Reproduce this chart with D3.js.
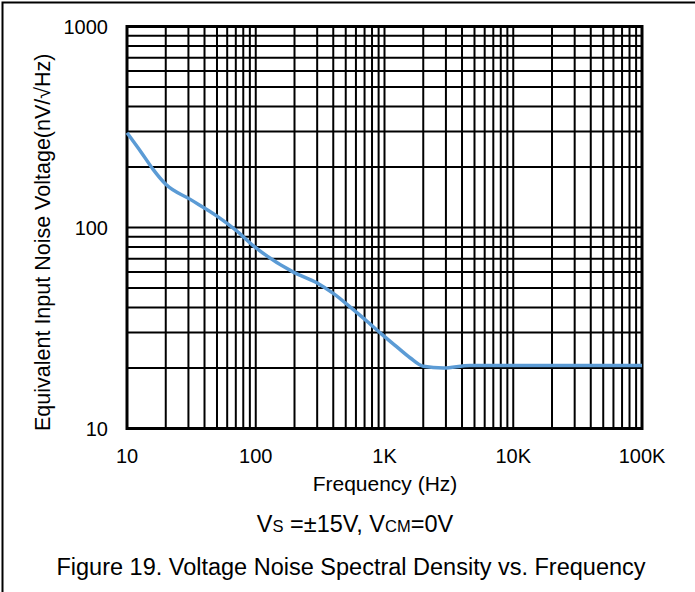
<!DOCTYPE html>
<html>
<head>
<meta charset="utf-8">
<script src="https://cdn.jsdelivr.net/npm/d3@7"></script>
<style>
  body { margin: 0; background: #fff; }
  text { font-family: "Liberation Sans", Arial, sans-serif; fill: #000; }
</style>
</head>
<body>
<svg id="chart" width="695" height="592"></svg>
<script>
// noise curve
const freq  = [10, 13, 16, 20, 31, 50, 70, 96, 196, 300, 400, 573, 700, 950, 1200, 1577, 2000, 2864, 4600, 10000, 100000];
const noise = [296, 235, 194, 164, 138, 114, 97, 81, 60, 53, 47, 39, 35, 29.5, 26, 22.5, 20.4, 20.0, 20.6, 20.6, 20.6];

const xTickValues = [10, 100, 1000, 10000, 100000];
const xTickLabels = ["10", "100", "1K", "10K", "100K"];
const yTickValues = [10, 100, 1000];
const yTickLabels = ["10", "100", "1000"];

const svg = d3.select("#chart");
const plotLeft = 127, plotRight = 642, plotTop = 26.5, plotBottom = 428.5;

// outer frame (runs off the right/bottom of the picture)
svg.append("rect")
	.attr("x", 2.5).attr("y", 2.5)
	.attr("width", 720).attr("height", 620)
	.style("fill", "none").style("stroke", "#000").style("stroke-width", 2);

const x = d3.scaleLog().domain([10, 100000]).range([plotLeft, plotRight]);
const y = d3.scaleLog().domain([10, 1000]).range([plotBottom, plotTop]);

let grid = svg.append("g");

// vertical grid, every 1..9 of each decade
grid.selectAll("line.vx")
	.data(x.ticks())
	.enter().append("line")
	.attr("x1", d => x(d)).attr("x2", d => x(d))
	.attr("y1", plotTop).attr("y2", plotBottom)
	.style("stroke", "#000").style("stroke-width", 2);

grid.selectAll("line.hy")
	.data(y.ticks())
	.enter().append("line")
	.attr("x1", plotLeft).attr("x2", plotRight)
	.attr("y1", d => y(d)).attr("y2", d => y(d))
	.style("stroke", "#000").style("stroke-width", 2);

// plot border
svg.append("rect")
	.attr("x", plotLeft).attr("y", plotTop)
	.attr("width", plotRight - plotLeft).attr("height", plotBottom - plotTop)
	.style("fill", "none").style("stroke", "#000").style("stroke-width", 3);

// tick labels
svg.selectAll("text.xt")
	.data(xTickValues)
	.enter().append("text")
	.attr("x", d => x(d))
	.attr("y", 463)
	.attr("font-size", 20)
	.style("text-anchor", "middle")
	.text((d, i) => xTickLabels[i]);

svg.selectAll("text.yt")
	.data(yTickValues)
	.enter().append("text")
	.attr("x", 108)
	.attr("y", d => y(d) + 7)
	.attr("font-size", 20)
	.style("text-anchor", "end")
	.text((d, i) => yTickLabels[i]);

// axis titles
svg.append("text")
	.attr("x", 385).attr("y", 491)
	.attr("font-size", 21)
	.style("text-anchor", "middle")
	.text("Frequency (Hz)");

svg.append("text")
	.attr("transform", "translate(50,431) rotate(-90)")
	.attr("font-size", 21.5)
	.style("text-anchor", "start")
	.text("Equivalent Input Noise Voltage(nV/\u221AHz)");

// conditions line with small subscripts
let cond = svg.append("text")
	.attr("x", 355).attr("y", 532)
	.attr("font-size", 23.5)
	.style("text-anchor", "middle");
cond.append("tspan").text("V");
cond.append("tspan").attr("font-size", 16.5).text("S");
cond.append("tspan").text(" =\u00B115V, V");
cond.append("tspan").attr("font-size", 16.5).text("CM");
cond.append("tspan").text("=0V");

svg.append("text")
	.attr("x", 351).attr("y", 575)
	.attr("font-size", 23.5)
	.style("text-anchor", "middle")
	.text("Figure 19. Voltage Noise Spectral Density vs. Frequency");

// the curve
const line = d3.line()
	.x((d, i) => x(freq[i]))
	.y(d => y(d))
	.curve(d3.curveMonotoneX);

svg.append("path")
	.datum(noise)
	.attr("d", line)
	.style("fill", "none")
	.style("stroke", "#5B9BD5")
	.style("stroke-width", 3.5)
	.style("stroke-linejoin", "round");
</script>
</body>
</html>
